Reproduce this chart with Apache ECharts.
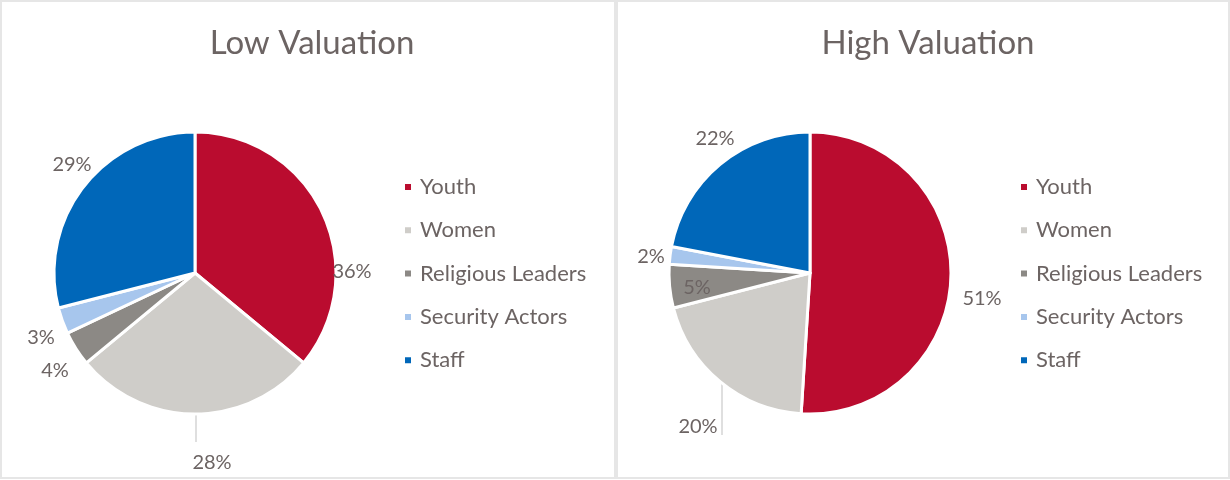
<!DOCTYPE html>
<html>
<head>
<meta charset="utf-8">
<script src="https://cdn.jsdelivr.net/npm/echarts@6/dist/echarts.min.js"></script>
<style>
html,body{margin:0;padding:0;background:#fff;}
#c{width:1230px;height:480px;}
</style>
</head>
<body>
<div id="c"></div>
<script>
// ---- data ----
const categories = ['Youth', 'Women', 'Religious Leaders', 'Security Actors', 'Staff'];
const lowValues = [36, 28, 4, 3, 29];
const highValues = [51, 20, 5, 2, 22];
const titles = ['Low Valuation', 'High Valuation'];

// ---- styling / layout ----
const colors = ['#BA0C2F', '#CFCDC9', '#8C8985', '#A7C6ED', '#0067B9'];
const textColor = '#6C6463';
const fontFamily = 'Lato, "Open Sans", sans-serif';

const lowLabelPos = [[352, 272], [212, 463], [55, 371], [41, 338], [72, 165]];
const highLabelPos = [[982, 299], [698, 427], [697, 288], [651, 257], [715, 139]];
const lowLines = {1: [[196, 414], [196, 442]]};
const highLines = {1: [[722, 382], [722, 435]]};

function makeData(values) {
  return categories.map((name, i) => ({
    name: name,
    value: values[i],
    itemStyle: {color: colors[i]},
    labelLine: {show: i === 1, lineStyle: {color: '#BFBFBF', width: 1}}
  }));
}

function makeSeries(values, center, labelPos, lines) {
  return {
    type: 'pie',
    center: center,
    radius: 141,
    startAngle: 90,
    clockwise: true,
    avoidLabelOverlap: false,
    data: makeData(values),
    itemStyle: {borderColor: '#fff', borderWidth: 3},
    label: {
      show: true,
      formatter: '{c}%',
      color: textColor,
      fontFamily: fontFamily,
      fontSize: 20
    },
    labelLine: {show: false},
    labelLayout: function (params) {
      const p = labelPos[params.dataIndex];
      const out = {x: p[0], y: p[1], align: 'center', verticalAlign: 'middle'};
      if (lines[params.dataIndex]) out.labelLinePoints = lines[params.dataIndex];
      return out;
    },
    emphasis: {disabled: true},
    silent: true
  };
}

function makeLegend(left) {
  return {
    orient: 'vertical',
    left: left,
    top: 176,
    padding: 0,
    data: categories,
    icon: 'rect',
    itemWidth: 8,
    itemHeight: 8,
    itemGap: 21.3,
    selectedMode: false,
    textStyle: {color: textColor, fontFamily: fontFamily, fontSize: 22, lineHeight: 22, padding: [0, 0, 0, 3]}
  };
}

const chart = echarts.init(document.getElementById('c'), null, {renderer: 'canvas'});
chart.setOption({
  backgroundColor: '#fff',
  animation: false,
  title: [
    {text: titles[0], left: 307, textAlign: 'center', top: 22,
     textStyle: {color: textColor, fontFamily: fontFamily, fontSize: 33, fontWeight: 'normal'}},
    {text: titles[1], left: 923, textAlign: 'center', top: 22,
     textStyle: {color: textColor, fontFamily: fontFamily, fontSize: 33, fontWeight: 'normal'}}
  ],
  legend: [
    makeLegend(403),
    makeLegend(1019)
  ],
  graphic: [
    {type: 'rect', shape: {x: 1, y: 1, width: 614, height: 477}, style: {fill: 'none', stroke: '#E6E6E6', lineWidth: 2}, silent: true},
    {type: 'rect', shape: {x: 617, y: 1, width: 612, height: 477}, style: {fill: 'none', stroke: '#E6E6E6', lineWidth: 2}, silent: true}
  ],
  series: [
    makeSeries(lowValues, [195, 273], lowLabelPos, lowLines),
    makeSeries(highValues, [810, 273], highLabelPos, highLines)
  ]
});
</script>
</body>
</html>
